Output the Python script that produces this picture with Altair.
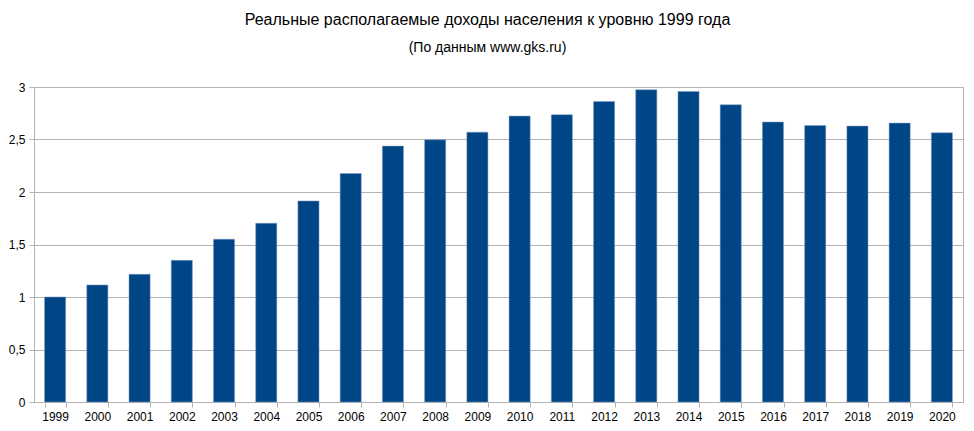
import altair as alt
import pandas as pd

years = [str(y) for y in range(1999, 2021)]
values = [1.0, 1.115, 1.216, 1.349, 1.55, 1.702, 1.915, 2.176, 2.437, 2.497, 2.57,
          2.723, 2.736, 2.863, 2.974, 2.958, 2.831, 2.666, 2.634, 2.628, 2.656, 2.564]

df = pd.DataFrame({"year": years, "value": values})

FONT = "Liberation Sans"
GRAY = "#b3b3b3"

chart = alt.Chart(df).mark_bar(color="#004586", stroke="#7f9fc4", strokeWidth=0.5).encode(
    x=alt.X("year:N", title=None, sort=years,
            scale=alt.Scale(paddingInner=0.5, paddingOuter=0.25),
            axis=alt.Axis(labelAngle=0, labelFont=FONT, labelFontSize=12, labelColor="#000000",
                          domainColor=GRAY, tickColor=GRAY, tickSize=5, tickBand="extent",
                          labelPadding=4, grid=False)),
    y=alt.Y("value:Q", title=None,
            scale=alt.Scale(domain=[0, 3], nice=False),
            axis=alt.Axis(values=[0, 0.5, 1, 1.5, 2, 2.5, 3],
                          labelExpr="replace(format(datum.value, ''), '.', ',')",
                          labelFont=FONT, labelFontSize=12, labelColor="#000000",
                          domainColor=GRAY, tickColor=GRAY, tickSize=5, labelPadding=4,
                          gridColor=GRAY, gridOpacity=1)),
).properties(
    width=929, height=315,
    autosize=alt.AutoSizeParams(type="none"),
    padding={"left": 26, "top": 79, "right": 3, "bottom": 20},
    title=alt.TitleParams(
        text="Реальные располагаемые доходы населения к уровню 1999 года",
        subtitle="(По данным www.gks.ru)",
        font=FONT, fontSize=16, fontWeight="normal", color="#000000",
        subtitleFont=FONT, subtitleFontSize=14, subtitleColor="#000000",
        subtitlePadding=13, anchor="middle", dx=-11, offset=26,
    ),
).configure_view(stroke=GRAY, strokeWidth=1)

chart.save("out.html", embed_options={"renderer": "svg", "actions": False})
